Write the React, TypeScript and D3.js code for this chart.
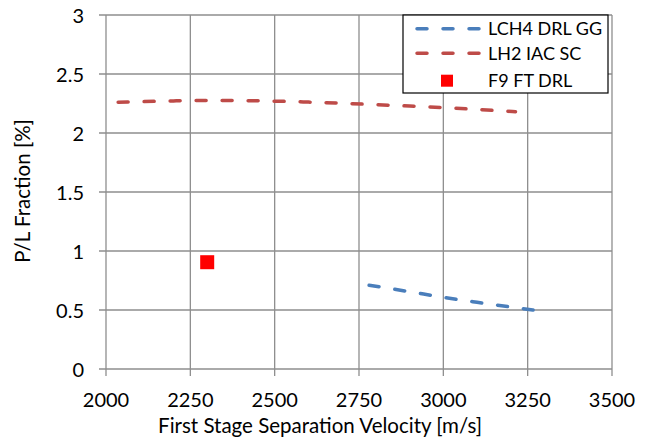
import React from "react";
import * as d3 from "d3";

const xTicks = [2000, 2250, 2500, 2750, 3000, 3250, 3500];
const yTicks = [0, 0.5, 1, 1.5, 2, 2.5, 3];
const yTickLabels = ["0", "0.5", "1", "1.5", "2", "2.5", "3"];

const lch4X = [2780, 2900, 3000, 3100, 3266];
const lch4Y = [0.71, 0.655, 0.607, 0.565, 0.5];

const lh2X = [2036, 2100, 2200, 2300, 2400, 2500, 2600, 2700, 2800, 2900, 3000, 3100, 3214];
const lh2Y = [2.26, 2.265, 2.272, 2.275, 2.274, 2.27, 2.262, 2.252, 2.24, 2.228, 2.215, 2.2, 2.18];

const f9X = [2300];
const f9Y = [0.905];

const legendLabels = ["LCH4 DRL GG", "LH2 IAC SC", "F9 FT DRL"];

const W = 647, H = 441;
const M = { left: 106, right: 612, top: 15, bottom: 369 };
const FONT = "Lato, 'Open Sans', sans-serif";

export default function App() {
  const x = d3.scaleLinear().domain([2000, 3500]).range([M.left, M.right]);
  const y = d3.scaleLinear().domain([0, 3]).range([M.bottom, M.top]);
  const line = d3.line<[number, number]>().x(d => x(d[0])).y(d => y(d[1])).curve(d3.curveMonotoneX);
  const lch4 = lch4X.map((v, i) => [v, lch4Y[i]] as [number, number]);
  const lh2 = lh2X.map((v, i) => [v, lh2Y[i]] as [number, number]);
  const grid = "#8e8e8e";
  const blue = "#4a7ebb";
  const red = "#be4b48";
  const lg = { x0: 403, y0: 15, x1: 608, y1: 93 };
  const rows = [28.7, 53.3, 80.7];
  return (
    <svg width={W} height={H} style={{ position: "absolute", left: 0, top: 0, background: "#fff" }}>
      <rect x={0} y={0} width={W} height={H} fill="#fff" />
      {xTicks.map(t => (
        <g key={"x" + t}>
          <line x1={x(t)} x2={x(t)} y1={M.top} y2={M.bottom + 7} stroke={grid} strokeWidth={1.3} />
          <text x={x(t)} y={407} textAnchor="middle" fontFamily={FONT} fontSize={20} fill="#000">{t}</text>
        </g>
      ))}
      {yTicks.map((t, i) => (
        <g key={"y" + t}>
          <line x1={M.left - 7} x2={M.right} y1={y(t)} y2={y(t)} stroke={grid} strokeWidth={1.3} />
          <text x={84} y={y(t) + 7.5} textAnchor="end" fontFamily={FONT} fontSize={20} fill="#000">{yTickLabels[i]}</text>
        </g>
      ))}
      <path d={line(lh2) || ""} fill="none" stroke={red} strokeWidth={3.5} strokeLinecap="round" strokeDasharray="10,16" />
      <path d={line(lch4) || ""} fill="none" stroke={blue} strokeWidth={3.5} strokeLinecap="round" strokeDasharray="10,16" />
      {f9X.map((v, i) => (
        <rect key={"f9" + i} x={x(v) - 7} y={y(f9Y[i]) - 7} width={14} height={14} fill="#ff0000" />
      ))}
      <text x={320} y={433} textAnchor="middle" fontFamily={FONT} fontSize={20.5} fill="#000">First Stage Separation Velocity [m/s]</text>
      <text transform={`translate(30,191) rotate(-90)`} textAnchor="middle" fontFamily={FONT} fontSize={20.5} fill="#000">P/L Fraction [%]</text>
      <rect x={lg.x0} y={lg.y0} width={lg.x1 - lg.x0} height={lg.y1 - lg.y0} fill="#fff" stroke="#000" strokeWidth={1.2} />
      <line x1={417} x2={479} y1={rows[0]} y2={rows[0]} stroke={blue} strokeWidth={3.5} strokeLinecap="round" strokeDasharray="10,16" />
      <line x1={417} x2={479} y1={rows[1]} y2={rows[1]} stroke={red} strokeWidth={3.5} strokeLinecap="round" strokeDasharray="10,16" />
      <rect x={441} y={rows[2] - 6} width={12} height={12} fill="#ff0000" />
      {legendLabels.map((l, i) => (
        <text key={l} x={488} y={rows[i] + 6.5} fontFamily={FONT} fontSize={18} fill="#000">{l}</text>
      ))}
    </svg>
  );
}
